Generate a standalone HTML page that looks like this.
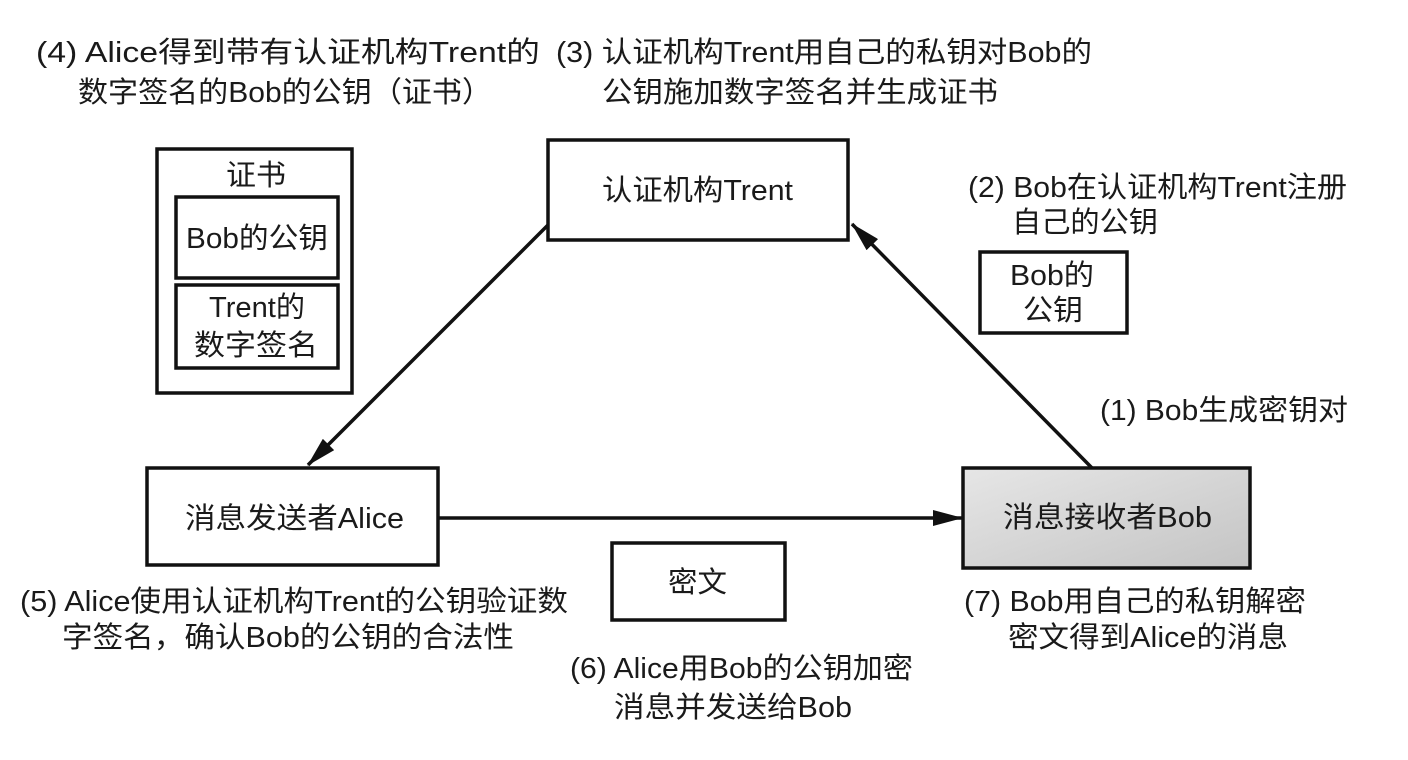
<!DOCTYPE html>
<html><head><meta charset="utf-8"><style>
body{margin:0;width:1408px;height:760px;background:#fff;overflow:hidden}
text{font-family:"Liberation Sans","Noto Sans CJK SC",sans-serif;font-size:29px;fill:#1a1a1a}
</style></head><body>
<svg width="1408" height="760" style="position:absolute;left:0;top:0">
<defs>
<linearGradient id="g" x1="0" y1="0" x2="1" y2="1"><stop offset="0" stop-color="#e6e6e6"/><stop offset="1" stop-color="#c4c4c4"/></linearGradient>
<marker id="b" markerWidth="30" markerHeight="16" refX="29" refY="8" orient="auto" markerUnits="userSpaceOnUse"><path d="M0,0 L30,8 L0,16 z" fill="#111"/></marker>
</defs>
<g fill="none" stroke="#111" stroke-width="3.5">
<rect x="157" y="149" width="195" height="244"/>
<rect x="176" y="197" width="162" height="81"/>
<rect x="176" y="285" width="162" height="83"/>
<rect x="548" y="140" width="300" height="100"/>
<rect x="980" y="252" width="147" height="81"/>
<rect x="147" y="468" width="291" height="97"/>
<rect x="963" y="468" width="287" height="100" fill="url(#g)"/>
<rect x="612" y="543" width="173" height="77"/>
<line x1="548" y1="225" x2="308" y2="465" marker-end="url(#b)"/>
<line x1="1092" y1="468" x2="852" y2="224" marker-end="url(#b)"/>
<line x1="438" y1="518" x2="962" y2="518" marker-end="url(#b)"/>
</g>
<g lengthAdjust="spacingAndGlyphs">
<text x="36" y="62" textLength="504" lengthAdjust="spacingAndGlyphs">(4) Alice得到带有认证机构Trent的</text>
<text x="78" y="102" textLength="414" lengthAdjust="spacingAndGlyphs">数字签名的Bob的公钥（证书）</text>
<text x="556" y="62" textLength="536" lengthAdjust="spacingAndGlyphs">(3) 认证机构Trent用自己的私钥对Bob的</text>
<text x="602" y="102" textLength="396" lengthAdjust="spacingAndGlyphs">公钥施加数字签名并生成证书</text>
<text x="226" y="185" textLength="60" lengthAdjust="spacingAndGlyphs">证书</text>
<text x="186" y="248" textLength="142" lengthAdjust="spacingAndGlyphs">Bob的公钥</text>
<text x="209" y="317" textLength="96" lengthAdjust="spacingAndGlyphs">Trent的</text>
<text x="194" y="355" textLength="124" lengthAdjust="spacingAndGlyphs">数字签名</text>
<text x="602" y="200" textLength="191" lengthAdjust="spacingAndGlyphs">认证机构Trent</text>
<text x="968" y="197" textLength="379" lengthAdjust="spacingAndGlyphs">(2) Bob在认证机构Trent注册</text>
<text x="1012" y="232" textLength="146" lengthAdjust="spacingAndGlyphs">自己的公钥</text>
<text x="1010" y="285" textLength="84" lengthAdjust="spacingAndGlyphs">Bob的</text>
<text x="1023" y="320" textLength="60" lengthAdjust="spacingAndGlyphs">公钥</text>
<text x="1100" y="420" textLength="248" lengthAdjust="spacingAndGlyphs">(1) Bob生成密钥对</text>
<text x="185" y="528" textLength="219" lengthAdjust="spacingAndGlyphs">消息发送者Alice</text>
<text x="1003" y="527" textLength="209" lengthAdjust="spacingAndGlyphs">消息接收者Bob</text>
<text x="668" y="592" textLength="59" lengthAdjust="spacingAndGlyphs">密文</text>
<text x="20" y="611" textLength="548" lengthAdjust="spacingAndGlyphs">(5) Alice使用认证机构Trent的公钥验证数</text>
<text x="62" y="647" textLength="452" lengthAdjust="spacingAndGlyphs">字签名，确认Bob的公钥的合法性</text>
<text x="964" y="611" textLength="342" lengthAdjust="spacingAndGlyphs">(7) Bob用自己的私钥解密</text>
<text x="1008" y="647" textLength="280" lengthAdjust="spacingAndGlyphs">密文得到Alice的消息</text>
<text x="570" y="678" textLength="343" lengthAdjust="spacingAndGlyphs">(6) Alice用Bob的公钥加密</text>
<text x="614" y="717" textLength="238" lengthAdjust="spacingAndGlyphs">消息并发送给Bob</text>
</g>
</svg>
</body></html>
